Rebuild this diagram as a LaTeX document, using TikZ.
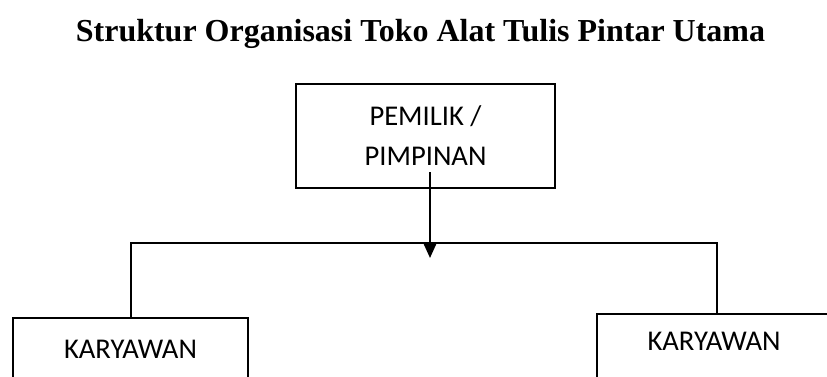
\documentclass[tikz,border=0pt]{standalone}
\usepackage{fontspec}
\setmainfont{Liberation Serif}
\newfontfamily\boxfont{Carlito}
\usetikzlibrary{arrows.meta}

\begin{document}
\begin{tikzpicture}[
    x=1pt, y=-1pt,
    title/.style={font=\fontsize{32}{36}\selectfont\bfseries, anchor=base},
    unit/.style={rectangle, draw, line width=2pt, align=center, inner sep=0pt, font=\boxfont\fontsize{28.6}{40}\selectfont},
    line/.style={line width=2pt},
    arrow/.style={-{Triangle[width=13pt,length=15pt]}, line width=2pt}
]
\useasboundingbox (0,0) rectangle (827,376);
\clip (0,0) rectangle (827,376);

% Title
\node[title] (judul) at (420.5,41) {Struktur Organisasi Toko Alat Tulis Pintar Utama};

% Owner
\node[unit, minimum width=259pt, minimum height=104pt] (pimpinan) at (425.5,136) {PEMILIK /\\PIMPINAN};

% Employees
\node[unit, anchor=north, minimum width=235pt, text height=40pt, text depth=22pt] (karyawan1) at (130.5,317) {KARYAWAN};
\node[unit, anchor=north west, minimum width=234pt, text height=36pt, text depth=34pt] (karyawan2) at (596,313) {KARYAWAN};

% Lines
\coordinate (bus) at (430,243);
\coordinate (tip) at (430,258);
\draw[line] (karyawan1.north) |- (bus) -| ([xshift=3pt]karyawan2.north);
\draw[arrow] ([xshift=4.5pt,yshift=17pt]pimpinan.south) -- (tip);

\end{tikzpicture}
\end{document}
